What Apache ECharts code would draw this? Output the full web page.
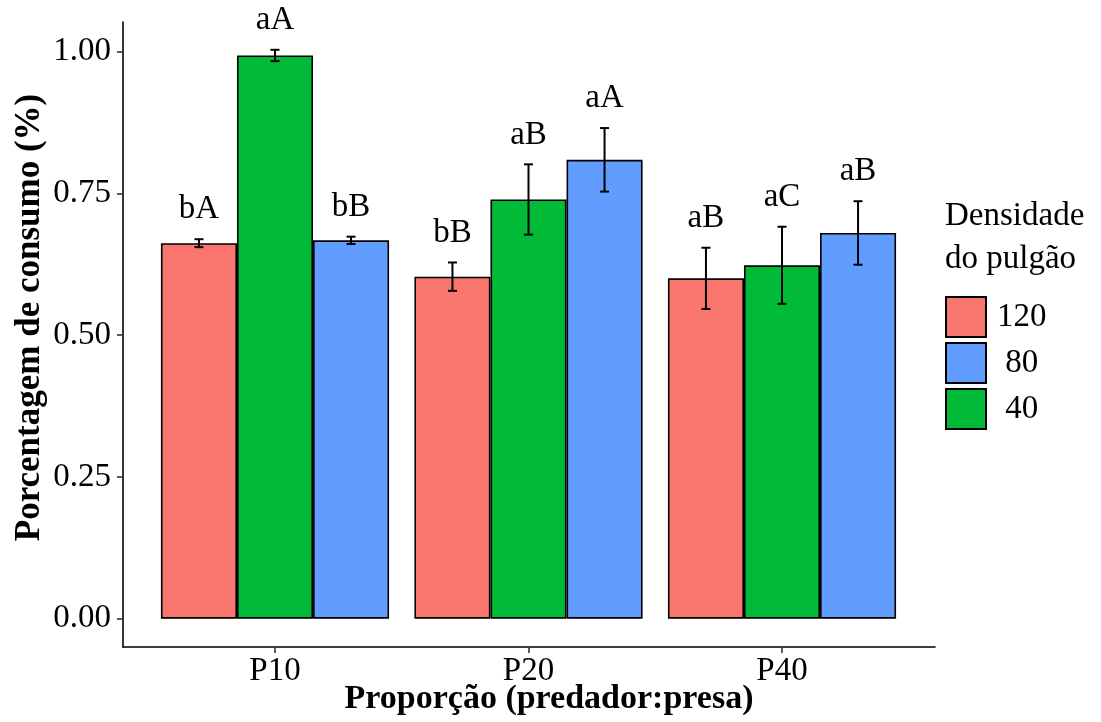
<!DOCTYPE html>
<html>
<head>
<meta charset="utf-8">
<script src="https://cdn.jsdelivr.net/npm/echarts@6/dist/echarts.min.js"></script>
<style>
html,body{margin:0;padding:0;background:#fff;}
#chart{width:1101px;height:722px;}
</style>
</head>
<body>
<div id="chart"></div>
<script>
// ---- data ----
const categories = ['P10', 'P20', 'P40'];
const mean120 = [0.662, 0.603, 0.600];
const se120   = [0.007, 0.025, 0.054];
const mean40  = [0.993, 0.739, 0.623];
const se40    = [0.010, 0.062, 0.068];
const mean80  = [0.667, 0.809, 0.680];
const se80    = [0.0065, 0.056, 0.056];
const letters120 = ['bA', 'bB', 'aB'];
const letters40  = ['aA', 'aB', 'aC'];
const letters80  = ['bB', 'aA', 'aB'];
const yTicks = [0, 0.25, 0.5, 0.75, 1.0];
const legendOrder = ['120', '80', '40'];

const FONT = 'Liberation Serif';
const colors = {'120': '#F8766D', '80': '#619CFF', '40': '#00BA38'};

function errSeries(name, means, ses, letters, slot) {
  return {
    type: 'custom',
    name: name + '_err',
    xAxisIndex: 1, yAxisIndex: 1,
    silent: true,
    z: 5,
    data: means.map((m, i) => [i, m, ses[i]]),
    renderItem: function (params, api) {
      const i = api.value(0), m = api.value(1), se = api.value(2);
      const band = api.size([1, 0])[0];
      const cx = api.coord([i, m])[0] + slot * band * 0.3;
      const top = api.coord([i, m + se])[1];
      const bot = api.coord([i, m - se])[1];
      const hw = 4.5;
      const ls = {stroke: '#000', lineWidth: 2};
      return {
        type: 'group',
        children: [
          {type: 'line', shape: {x1: cx, y1: top, x2: cx, y2: bot}, style: ls},
          {type: 'line', shape: {x1: cx - hw, y1: top, x2: cx + hw, y2: top}, style: ls},
          {type: 'line', shape: {x1: cx - hw, y1: bot, x2: cx + hw, y2: bot}, style: ls},
          {type: 'text', style: {
            text: letters[params.dataIndex], x: cx, y: top - 13,
            align: 'center', verticalAlign: 'bottom',
            fontSize: 33, fontFamily: FONT, fill: '#000'
          }}
        ]
      };
    }
  };
}

function barSeries(name, means) {
  return {
    type: 'bar',
    name: name,
    xAxisIndex: 1, yAxisIndex: 1,
    data: means,
    barGap: '0%',
    barCategoryGap: '10%',
    itemStyle: {color: colors[name], borderColor: '#000', borderWidth: 1.6},
    emphasis: {disabled: true}
  };
}

const chart = echarts.init(document.getElementById('chart'), null, {renderer: 'canvas'});
const option = {
  animation: false,
  backgroundColor: '#fff',
  title: {
    text: 'Densidade\ndo pulgão',
    left: 940, top: 190,
    textStyle: {fontFamily: FONT, fontSize: 33, fontWeight: 'normal', color: '#000', lineHeight: 43}
  },
  legend: {
    data: legendOrder,
    orient: 'vertical',
    left: 940, top: 291,
    itemWidth: 40, itemHeight: 40, itemGap: 4,
    icon: 'rect',
    formatter: n => (n.length < 3 ? ' ' : '') + n,
    textStyle: {fontFamily: FONT, fontSize: 33, lineHeight: 40, color: '#000', padding: [0, 0, 0, 6]}
  },
  grid: [
    {left: 123, top: 22, width: 812, height: 625, outerBoundsMode: 'none', containLabel: false},
    {left: 148.25, top: 22, width: 760.5, height: 625, outerBoundsMode: 'none', containLabel: false}
  ],
  xAxis: [
    {
      type: 'value', gridIndex: 0, min: 0, max: 1,
      axisLine: {show: true, onZero: false, lineStyle: {color: '#000', width: 1.6}},
      axisTick: {show: false}, axisLabel: {show: false}, splitLine: {show: false},
      name: 'Proporção (predador:presa)', nameLocation: 'middle', nameGap: 35, nameMoveOverlap: false,
      nameTextStyle: {fontFamily: FONT, fontSize: 34, fontWeight: 'bold', color: '#000', padding: [0, 0, 0, 40]}
    },
    {
      type: 'category', gridIndex: 1, data: categories,
      axisLine: {show: false, onZero: false},
      axisTick: {show: true, alignWithLabel: true, length: 6, lineStyle: {color: '#333', width: 1.6}},
      axisLabel: {fontFamily: FONT, fontSize: 33, color: '#000', margin: 8},
      splitLine: {show: false}
    }
  ],
  yAxis: [
    {
      type: 'value', gridIndex: 0, min: -0.05, max: 1.052,
      axisLine: {show: true, onZero: false, lineStyle: {color: '#000', width: 1.6}},
      axisTick: {show: true, length: 6, customValues: yTicks, lineStyle: {color: '#333', width: 1.6}},
      axisLabel: {customValues: yTicks, formatter: v => v.toFixed(2), fontFamily: FONT, fontSize: 33, color: '#000', margin: 12},
      splitLine: {show: false},
      name: 'Porcentagem de consumo (%)', nameLocation: 'middle', nameGap: 76, nameMoveOverlap: false,
      nameTextStyle: {fontFamily: FONT, fontSize: 35, fontWeight: 'bold', color: '#000', padding: [0, 0, 0, 34]}
    },
    {
      type: 'value', gridIndex: 1, min: -0.05, max: 1.052, show: false
    }
  ],
  series: [
    barSeries('120', mean120),
    barSeries('40', mean40),
    barSeries('80', mean80),
    errSeries('120', mean120, se120, letters120, -1),
    errSeries('40', mean40, se40, letters40, 0),
    errSeries('80', mean80, se80, letters80, 1)
  ]
};
chart.setOption(option);
</script>
</body>
</html>
